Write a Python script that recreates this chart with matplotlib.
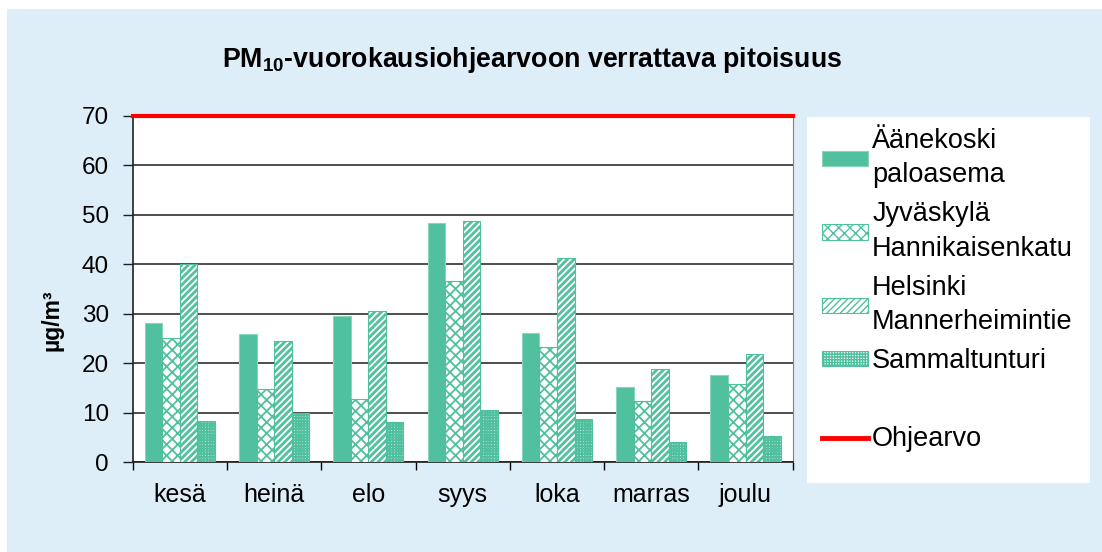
import matplotlib
matplotlib.use("Agg")
import matplotlib.pyplot as plt
from matplotlib.patches import Rectangle, Patch
from matplotlib.lines import Line2D
import numpy as np

months = ["kesä", "heinä", "elo", "syys", "loka", "marras", "joulu"]
aanekoski = [28.2, 26.0, 29.5, 48.4, 26.2, 15.3, 17.7]
jyvaskyla = [25.1, 14.9, 12.8, 36.7, 23.3, 12.4, 15.9]
helsinki = [40.1, 24.5, 30.5, 48.7, 41.2, 18.8, 21.9]
sammaltunturi = [8.3, 10.0, 8.1, 10.5, 8.7, 4.2, 5.3]
ohjearvo = 70

series_names = ["Äänekoski\npaloasema", "Jyväskylä\nHannikaisenkatu",
                "Helsinki\nMannerheimintie", "Sammaltunturi"]

GREEN = "#50c09e"
EDGE = "#8ad5bd"
BG = "#deeef9"

plt.rcParams["font.family"] = ["Liberation Sans", "DejaVu Sans"]
plt.rcParams["mathtext.fontset"] = "custom"
plt.rcParams["mathtext.rm"] = "Liberation Sans"
plt.rcParams["mathtext.bf"] = "Liberation Sans:bold"

W, H = 1102, 552
fig = plt.figure(figsize=(W / 100, H / 100), dpi=100)
fig.patch.set_facecolor("white")
fig.patches.append(Rectangle((7 / W, 0), 1 - 7 / W, 1 - 9 / H,
                             transform=fig.transFigure, facecolor=BG,
                             edgecolor="none", zorder=-2))
# legend box
fig.patches.append(Rectangle((807 / W, 1 - 483 / H), (1090 - 807) / W, (483 - 117) / H,
                             transform=fig.transFigure, facecolor="white",
                             edgecolor="none", zorder=-1))

ax = fig.add_axes([132.7 / W, 1 - 462.3 / H, (792.7 - 132.7) / W, (462.3 - 115.7) / H])
ax.set_facecolor("white")

x = np.arange(len(months))
bw = 0.186
offs = np.array([-1.5, -0.5, 0.5, 1.5]) * bw
styles = [
    dict(color=GREEN, edgecolor=EDGE, hatch=None, hlw=1.0),
    dict(color="white", edgecolor=GREEN, hatch="xxx", hlw=1.3),
    dict(color="white", edgecolor=GREEN, hatch="/////", hlw=2.0),
    dict(color="white", edgecolor=GREEN, hatch="++++++", hlw=1.4),
]
handles = []
for vals, off, st in zip([aanekoski, jyvaskyla, helsinki, sammaltunturi], offs, styles):
    with plt.rc_context({"hatch.linewidth": st["hlw"]}):
        ax.bar(x + off, vals, bw, facecolor=st["color"], edgecolor=st["edgecolor"],
               hatch=st["hatch"], linewidth=0.8, zorder=3)
        handles.append(Patch(facecolor=st["color"], edgecolor=st["edgecolor"],
                             hatch=st["hatch"], linewidth=0.8))

ax.axhline(ohjearvo, color="#ff0000", lw=3, zorder=5, clip_on=False)

ax.set_xlim(-0.5, len(months) - 0.5)
ax.set_ylim(0, 70)
ax.set_yticks(range(0, 80, 10))
ax.yaxis.grid(True, color="#404040", lw=1.3)
ax.set_axisbelow(True)
ax.tick_params(axis="y", direction="out", length=7, width=1, pad=10, labelsize=17.5,
               color="#202020")
ax.set_xticks(x)
ax.set_xticklabels(months)
ax.set_xticks(np.arange(-0.5, len(months)), minor=True)
ax.tick_params(axis="x", which="major", length=0, pad=15, labelsize=18)
ax.tick_params(axis="x", which="minor", direction="out", length=6, width=1)
for s in ["left", "bottom"]:
    ax.spines[s].set_color("#202020")
    ax.spines[s].set_linewidth(1.2)
ax.spines["top"].set_visible(False)
ax.spines["right"].set_color("#808080")

fig.text(52 / W, 1 - 320 / H, "µg/m³", rotation=90, fontsize=16.5, fontweight="bold",
         ha="center", va="center")
fig.text(532 / W, 1 - 60 / H, r"PM$_{\mathbf{10}}$-vuorokausiohjearvoon verrattava pitoisuus",
         fontsize=19.3, fontweight="bold", ha="center", va="center")

handles.append(Line2D([], [], color="none"))
handles.append(Line2D([], [], color="#ff0000", lw=3.5))
labels = series_names + ["", "Ohjearvo"]
leg = fig.legend(handles, labels, loc="upper left", bbox_to_anchor=(822 / W, 1 - 128 / H),
                 frameon=False, fontsize=19.5, handlelength=1.7, handleheight=0.5,
                 handletextpad=0.15, labelspacing=0.48, borderpad=0, borderaxespad=0)
for t in leg.get_texts():
    t.set_linespacing(1.42)

fig.savefig("out.png", dpi=100)
